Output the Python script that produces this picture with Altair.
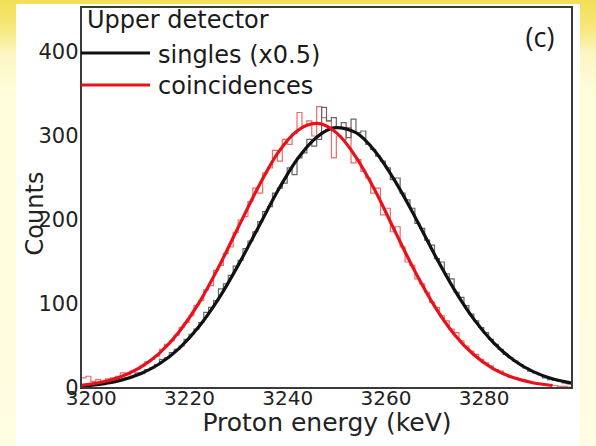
import altair as alt
import pandas as pd

# ---------------- data ----------------
bin_start = 3198          # keV, left edge of first bin
bin_width = 1             # keV
coinc_counts = [
    12, 14, 8, 10, 7, 11, 12, 14, 18, 16,
    20, 22, 26, 31, 34, 38, 46, 52, 56, 63,
    72, 78, 86, 98, 104, 117, 122, 140, 146, 160,
    168, 185, 200, 204, 222, 238, 232, 256, 262, 283,
    270, 296, 290, 303, 328, 312, 318, 300, 335, 322,
    318, 274, 300, 296, 310, 268, 272, 258, 250, 232,
    238, 206, 214, 186, 192, 168, 150, 146, 130, 124,
    114, 102, 96, 86, 80, 70, 66, 56, 50, 44,
    40, 34, 30, 26, 22, 20, 16, 13, 12, 10,
    8, 7, 6, 5, 4, 4, 3, 2, 2, 1,
]
singles_counts = [
    3, 2, 4, 5, 4, 6, 8, 9, 10, 12,
    14, 18, 17, 22, 24, 28, 34, 36, 42, 46,
    50, 58, 64, 70, 78, 90, 96, 104, 118, 124,
    134, 145, 152, 166, 175, 186, 198, 210, 216, 232,
    238, 244, 262, 254, 274, 280, 296, 288, 296, 334,
    318, 322, 310, 316, 298, 320, 304, 306, 290, 284,
    276, 270, 262, 248, 250, 232, 224, 214, 196, 190,
    176, 170, 154, 150, 136, 130, 114, 108, 98, 88,
    80, 72, 66, 58, 52, 46, 40, 36, 32, 28,
    24, 20, 18, 16, 12, 10, 9, 8, 6, 5,
]
fit_energy_red = [3198, 3202, 3206, 3210, 3214, 3218, 3222, 3226, 3230, 3234,
                  3238, 3242, 3246, 3250, 3254, 3258, 3262, 3266, 3270, 3274,
                  3278, 3282, 3286, 3290, 3294]
fit_red = [3.2, 6.8, 13.2, 24.2, 41.5, 67, 101, 143.6, 191, 238,
           279, 306, 315, 304, 275, 234, 186, 139, 97.5, 64,
           39.5, 22.8, 12.4, 6.3, 3.0]
fit_energy_black = [3198, 3202, 3206, 3210, 3214, 3218, 3222, 3226, 3230, 3234,
                    3238, 3242, 3246, 3250, 3254, 3258, 3262, 3266, 3270, 3274,
                    3278, 3282, 3286, 3290, 3294, 3298]
fit_black = [2.3, 4.7, 9.1, 16.7, 28.9, 47.2, 72.8, 106, 146, 190,
             234, 272, 298.6, 310, 304, 281, 246, 204, 159, 117.5,
             82, 54, 33.7, 19.8, 11, 5.8]
x_ticks = [3200, 3220, 3240, 3260, 3280]
y_ticks = [0, 100, 200, 300, 400]
legend_title = "Upper detector"
legend_labels = ["singles (x0.5)", "coincidences"]
panel_label = "(c)"

# ---------------- tables ----------------
def hist_frame(counts):
    edges = [bin_start + i * bin_width for i in range(len(counts) + 1)]
    return pd.DataFrame({"E": edges, "C": counts + [counts[-1]]})

h_red = hist_frame(coinc_counts)
h_black = hist_frame(singles_counts)
f_red = pd.DataFrame({"E": fit_energy_red, "C": fit_red})
f_black = pd.DataFrame({"E": fit_energy_black, "C": fit_black})
one = pd.DataFrame({"a": [0]})

FONT = "DejaVu Sans"
W, H = 491, 381

xscale = alt.Scale(domain=[3198, 3298], nice=False, zero=False)
yscale = alt.Scale(domain=[0, 453.6], nice=False, zero=True)

xaxis = alt.Axis(values=x_ticks, format="d", title="Proton energy (keV)",
                 tickSize=0, domain=False, grid=False, zindex=2,
                 labelFont=FONT, labelFontSize=20, labelColor="#222",
                 labelPadding=0, labelFlush=False, labelOverlap=False,
                 titleFont=FONT, titleFontSize=25, titleFontWeight="normal",
                 titleColor="#222", titleY=42, titleBaseline="alphabetic")
yaxis = alt.Axis(values=y_ticks, format="d", title="Counts",
                 tickSize=0, domain=False, grid=False, zindex=2,
                 labelFont=FONT, labelFontSize=21, labelColor="#222",
                 labelPadding=3, labelFlush=False, labelOverlap=False,
                 titleFont=FONT, titleFontSize=24, titleFontWeight="normal",
                 titleColor="#222", titleX=-39, titleY=206,
                 titleBaseline="alphabetic", titleAngle=270, titleAlign="center")

bg = alt.Chart(one).mark_rect(
    fill=alt.Gradient(gradient="linear", x1=0, x2=0, y1=0, y2=1,
                      stops=[alt.GradientStop(color="#f3df55", offset=0),
                             alt.GradientStop(color="#f6e778", offset=0.06),
                             alt.GradientStop(color="#fcf5c2", offset=0.12),
                             alt.GradientStop(color="#fffcd8", offset=0.2),
                             alt.GradientStop(color="#fffde2", offset=1)])
).encode(x=alt.value(-81), x2=alt.value(515), y=alt.value(-7), y2=alt.value(439))

panel = alt.Chart(one).mark_rect(fill="white").encode(
    x=alt.value(-65), x2=alt.value(499), y=alt.value(-3), y2=alt.value(440))

hist_r = alt.Chart(h_red).mark_line(interpolate="step-after", color="#ee6a6a",
                                    strokeWidth=1.2, clip=True).encode(
    x=alt.X("E:Q", scale=xscale, axis=xaxis),
    y=alt.Y("C:Q", scale=yscale, axis=yaxis))
hist_b = alt.Chart(h_black).mark_line(interpolate="step-after", color="#666666",
                                      strokeWidth=1.2, clip=True).encode(
    x=alt.X("E:Q", scale=xscale), y=alt.Y("C:Q", scale=yscale))
fit_b = alt.Chart(f_black).mark_line(interpolate="monotone", color="#111111",
                                     strokeWidth=3.2, clip=True).encode(
    x=alt.X("E:Q", scale=xscale), y=alt.Y("C:Q", scale=yscale))
fit_r = alt.Chart(f_red).mark_line(interpolate="monotone", color="#e8121a",
                                   strokeWidth=3.2, clip=True).encode(
    x=alt.X("E:Q", scale=xscale), y=alt.Y("C:Q", scale=yscale))

frame = alt.Chart(one).mark_rect(filled=False, stroke="#3a3a3a", strokeWidth=2).encode(
    x=alt.value(0), x2=alt.value(W), y=alt.value(0), y2=alt.value(H))

def txt(s, x, y, size=24, font=FONT, align="left"):
    return alt.Chart(one).mark_text(font=font, fontSize=size, color="#1a1a1a",
                                    align=align, baseline="alphabetic").encode(
        x=alt.value(x), y=alt.value(y), text=alt.value(s))

leg_line_b = alt.Chart(one).mark_rule(color="#111111", strokeWidth=3).encode(
    x=alt.value(0), x2=alt.value(69), y=alt.value(46))
leg_line_r = alt.Chart(one).mark_rule(color="#e8121a", strokeWidth=3).encode(
    x=alt.value(0), x2=alt.value(69), y=alt.value(78))

chart = alt.layer(
    bg, panel, hist_r, hist_b, fit_b, fit_r, frame,
    txt(legend_title, 6, 21),
    leg_line_b, txt(legend_labels[0], 77, 56),
    leg_line_r, txt(legend_labels[1], 77, 87),
    txt(panel_label, 459, 40, size=27, font="Open Sans", align="center"),
).properties(
    width=W, height=H,
    autosize=alt.AutoSizeParams(type="none"),
    padding={"left": 81, "top": 7, "right": 24, "bottom": 58},
).configure(background="#fffcd8").configure_view(stroke=None)

chart.save("out.html", embed_options={"renderer": "svg", "actions": False})
